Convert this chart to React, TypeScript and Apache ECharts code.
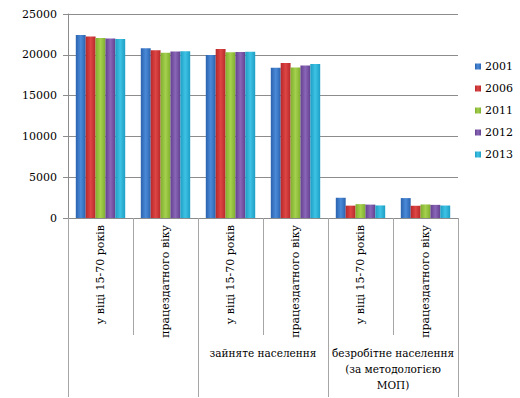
import React, { useEffect, useRef } from "react";
import * as echarts from "echarts";

const subLabels = [
  "у віці 15-70 років",
  "працездатного віку",
  "у віці 15-70 років",
  "працездатного віку",
  "у віці 15-70 років",
  "працездатного віку",
];
const groupLabels = ["", "зайняте населення", "безробітне населення\n(за методологією\nМОП)"];
const years = ["2001", "2006", "2011", "2012", "2013"];
const v2001 = [22427, 20800, 19972, 18400, 2480, 2440];
const v2006 = [22245, 20546, 20700, 19000, 1515, 1500];
const v2011 = [22057, 20247, 20324, 18450, 1700, 1660];
const v2012 = [22012, 20393, 20354, 18700, 1640, 1610];
const v2013 = [21930, 20440, 20380, 18860, 1540, 1530];
const yTicks = [0, 5000, 10000, 15000, 20000, 25000];

const seriesValues = [v2001, v2006, v2011, v2012, v2013];
const colorPairs = [
  ["#2A62AE", "#4A8AD8"],
  ["#B8282A", "#DD4644"],
  ["#7FAE2E", "#A5D04E"],
  ["#64418F", "#8A66B8"],
  ["#1E9EC4", "#3DC2E4"],
];

export default function App() {
  const ref = useRef<HTMLDivElement>(null);
  useEffect(() => {
    const chart = echarts.init(ref.current!, null, { renderer: "svg" });
    const font = "DejaVu Serif";
    chart.setOption({
      animation: false,
      textStyle: { fontFamily: font },
      grid: { left: 68, right: 62, top: 14, bottom: 180, containLabel: false },
      legend: {
        orient: "vertical",
        left: 470,
        top: 56,
        itemWidth: 6,
        itemHeight: 6,
        itemGap: 11,
        icon: "rect",
        data: years,
        textStyle: { fontFamily: font, fontSize: 11, color: "#000", padding: [0, 0, 0, -1] },
      },
      xAxis: [
        {
          type: "category",
          data: subLabels.map((_, i) => String(i)),
          position: "bottom",
          axisLine: { show: true, lineStyle: { color: "#8C8C8C" } },
          axisTick: { show: true, length: 117, interval: 0, lineStyle: { color: "#A6A6A6" } },
          axisLabel: {
            interval: 0,
            rotate: 90,
            margin: 7,
            fontFamily: font,
            fontSize: 11,
            color: "#000",
            formatter: (_: string, i: number) => subLabels[i],
          },
        },
        {
          type: "category",
          data: groupLabels,
          position: "bottom",
          axisLine: { show: false },
          axisTick: { show: true, length: 179, interval: 0, lineStyle: { color: "#A6A6A6" } },
          axisLabel: {
            interval: 0,
            margin: 127,
            fontFamily: font,
            fontSize: 10.5,
            color: "#000",
            lineHeight: 16,
            align: "center",
            verticalAlign: "top",
          },
        },
      ],
      yAxis: {
        type: "value",
        min: yTicks[0],
        max: yTicks[yTicks.length - 1],
        interval: 5000,
        axisLine: { show: true, lineStyle: { color: "#8C8C8C" } },
        axisTick: { show: true, length: 5, lineStyle: { color: "#8C8C8C" } },
        axisLabel: {
          fontFamily: font,
          fontSize: 11,
          color: "#000",
          margin: 11,
          formatter: (v: number) => String(v),
        },
        splitLine: { show: true, lineStyle: { color: "#8C8C8C" } },
      },
      series: years.map((y, k) => ({
        name: y,
        type: "bar",
        xAxisIndex: 0,
        data: seriesValues[k],
        barGap: "0%",
        barCategoryGap: "24%",
        itemStyle: {
          color: new echarts.graphic.LinearGradient(0, 0, 1, 0, [
            { offset: 0, color: colorPairs[k][0] },
            { offset: 0.5, color: colorPairs[k][1] },
            { offset: 1, color: colorPairs[k][0] },
          ]),
        },
      })),
    });
    return () => chart.dispose();
  }, []);
  return <div ref={ref} style={{ width: 520, height: 398, position: "absolute", left: 0, top: 0 }} />;
}
